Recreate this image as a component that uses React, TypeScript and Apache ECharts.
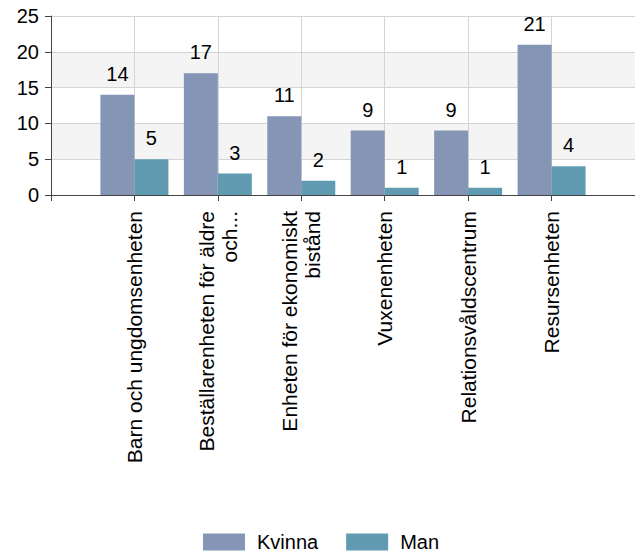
import React, { useEffect, useRef } from "react";
import * as echarts from "echarts";

const categories = [
  "Barn och ungdomsenheten",
  "Beställarenheten för äldre\noch...",
  "Enheten för ekonomiskt\nbistånd",
  "Vuxenenheten",
  "Relationsvåldscentrum",
  "Resursenheten",
];
const kvinna = [14, 17, 11, 9, 9, 21];
const man = [5, 3, 2, 1, 1, 4];
const seriesNames = ["Kvinna", "Man"];
const yTicks = { min: 0, max: 25, interval: 5 };

const FONT = "'Liberation Sans', Arial, sans-serif";

export default function App() {
  const ref = useRef<HTMLDivElement>(null);
  useEffect(() => {
    if (!ref.current) return;
    const chart = echarts.init(ref.current, null, { renderer: "svg" });
    const axisCats = ["", ...categories, ""];
    const pad = (a: number[]) => [null, ...a, null];
    chart.setOption({
      animation: false,
      textStyle: { fontFamily: FONT },
      grid: { left: 51, right: -8, top: 16, bottom: 360, containLabel: false },
      legend: {
        top: 532,
        left: 203,
        padding: 0,
        icon: "rect",
        itemWidth: 42,
        itemHeight: 17,
        itemGap: 28,
        textStyle: { fontSize: 20, color: "#000", fontFamily: FONT, padding: [0, 0, 0, 7] },
        data: seriesNames,
      },
      xAxis: {
        type: "category",
        data: axisCats,
        boundaryGap: false,
        axisLine: { lineStyle: { color: "#444", width: 1 } },
        axisTick: { show: true, length: 6, lineStyle: { color: "#444" } },
        splitLine: { show: true, lineStyle: { color: "#d4d4d4", width: 1 } },
        axisLabel: {
          rotate: 90,
          margin: 16,
          fontSize: 21,
          color: "#000",
          fontFamily: FONT,
          interval: 0,
          lineHeight: 23,
        },
      },
      yAxis: {
        type: "value",
        min: yTicks.min,
        max: yTicks.max,
        interval: yTicks.interval,
        axisLine: { show: true, lineStyle: { color: "#444", width: 1 } },
        axisTick: { show: true, length: 6, lineStyle: { color: "#444" } },
        axisLabel: { fontSize: 20, color: "#000", margin: 12, fontFamily: FONT },
        splitLine: { show: true, lineStyle: { color: "#d4d4d4", width: 1 } },
        splitArea: { show: true, areaStyle: { color: ["rgba(255,255,255,0)", "#f4f4f4"] } },
      },
      series: [
        {
          name: seriesNames[0],
          type: "bar",
          data: pad(kvinna),
          barWidth: 34,
          barGap: "0%",
          itemStyle: { color: "#8595b5" },
          label: { show: true, position: "top", distance: 11, fontSize: 20, color: "#000", fontFamily: FONT },
        },
        {
          name: seriesNames[1],
          type: "bar",
          data: pad(man),
          barWidth: 34,
          barGap: "0%",
          itemStyle: { color: "#609bb1" },
          label: { show: true, position: "top", distance: 11, fontSize: 20, color: "#000", fontFamily: FONT },
        },
      ],
    });
    return () => chart.dispose();
  }, []);
  return (
    <div
      ref={ref}
      style={{ position: "fixed", left: 0, top: 0, width: 635, height: 555, background: "#fff" }}
    />
  );
}
